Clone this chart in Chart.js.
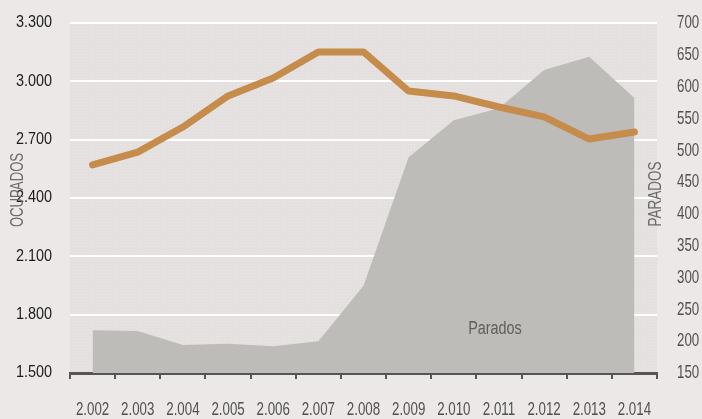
<!DOCTYPE html>
<html lang="es">
<head>
  <meta charset="UTF-8">
  <title>Ocupados y Parados</title>
  <script src="https://cdn.jsdelivr.net/npm/chart.js"></script>
  <style>
    html, body { margin: 0; padding: 0; background: #ece8e7; }
    canvas { display: block; }
  </style>
</head>
<body>
  <canvas id="grafico" width="702" height="419"></canvas>

  <script>
    const anios = ['2.002', '2.003', '2.004', '2.005', '2.006', '2.007', '2.008',
                   '2.009', '2.010', '2.011', '2.012', '2.013', '2.014'];
    const ocupados = [2570, 2636, 2765, 2925, 3017, 3151, 3151, 2950, 2925, 2868, 2817, 2703, 2739];
    const parados = [217, 216, 194, 196, 192, 200, 287, 489, 547, 566, 626, 647, 582];

    const fuente = '"Liberation Sans", Arial, sans-serif';
    const miles = v => String(v).replace(/\B(?=(\d{3})+(?!\d))/g, '.');

    // fondo punteado del área de trazado
    const pat = document.createElement('canvas');
    pat.width = 3; pat.height = 3;
    const pctx = pat.getContext('2d');
    pctx.fillStyle = '#e4e0df';
    pctx.fillRect(0, 0, 3, 3);
    pctx.fillStyle = '#ebe7e6';
    pctx.fillRect(0, 0, 1, 1);

    const fondo = {
      id: 'fondo',
      beforeDraw(chart) {
        const { ctx, chartArea: a } = chart;
        ctx.save();
        ctx.fillStyle = ctx.createPattern(pat, 'repeat');
        ctx.fillRect(a.left, a.top, a.right - a.left, a.bottom - a.top);
        ctx.restore();
      }
    };

    // texto estrecho: escala horizontal para imitar una fuente condensada
    function texto(ctx, str, x, y, sx, align, rot) {
      ctx.save();
      ctx.translate(x, y);
      if (rot) ctx.rotate(rot);
      ctx.scale(sx, 1);
      ctx.textAlign = align;
      ctx.textBaseline = 'middle';
      ctx.fillText(str, 0, 0);
      ctx.restore();
    }

    const textos = {
      id: 'textos',
      afterDraw(chart) {
        const ctx = chart.ctx;
        const { x, y, y2 } = chart.scales;
        ctx.save();

        ctx.font = '16px ' + fuente;
        ctx.fillStyle = '#1c1c1c';
        y.ticks.forEach(t => texto(ctx, miles(t.value), 52, y.getPixelForValue(t.value), 0.9, 'right'));

        ctx.font = '19px ' + fuente;
        ctx.fillStyle = '#505050';
        y2.ticks.forEach(t => texto(ctx, String(t.value), 677, y2.getPixelForValue(t.value), 0.7, 'left'));
        x.ticks.forEach((t, i) => texto(ctx, anios[i], x.getPixelForValue(i), 410, 0.7, 'center'));

        ctx.font = '18px ' + fuente;
        ctx.fillStyle = '#6b6b6b';
        texto(ctx, 'OCUPADOS', 18, 190, 0.73, 'center', -Math.PI / 2);
        texto(ctx, 'PARADOS', 656, 194, 0.75, 'center', -Math.PI / 2);

        ctx.fillStyle = '#5e5e5e';
        texto(ctx, 'Parados', 495, 329, 0.8, 'center');
        ctx.restore();
      }
    };

    new Chart(document.getElementById('grafico'), {
      type: 'line',
      data: {
        labels: anios,
        datasets: [
          {
            label: 'Ocupados',
            data: ocupados,
            yAxisID: 'y',
            borderColor: '#c68c4b',
            borderWidth: 7,
            borderCapStyle: 'round',
            borderJoinStyle: 'round',
            pointRadius: 0,
            tension: 0,
            fill: false,
            order: 1
          },
          {
            label: 'Parados',
            data: parados,
            yAxisID: 'y2',
            backgroundColor: '#bdbcb8',
            borderWidth: 0,
            pointRadius: 0,
            tension: 0,
            fill: 'start',
            order: 2
          }
        ]
      },
      options: {
        responsive: false,
        animation: false,
        layout: { padding: { top: 23, left: 0, right: 0, bottom: 0 } },
        plugins: { legend: { display: false }, tooltip: { enabled: false } },
        scales: {
          x: {
            offset: true,
            grid: { offset: true, drawOnChartArea: false, drawTicks: true, tickLength: 6, color: '#555', lineWidth: 2 },
            border: { display: true, color: '#555', width: 3 },
            ticks: { display: false, autoSkip: false },
            afterFit(s) { s.height = 46; }
          },
          y: {
            position: 'left',
            min: 1500, max: 3300,
            grid: { color: '#ffffff', lineWidth: 2, drawTicks: false },
            border: { display: false },
            ticks: { display: false, stepSize: 300 },
            afterFit(s) { s.width = 70; }
          },
          y2: {
            position: 'right',
            min: 150, max: 700,
            grid: { display: false, drawOnChartArea: false },
            border: { display: false },
            ticks: { display: false, stepSize: 50 },
            afterFit(s) { s.width = 45; }
          }
        }
      },
      plugins: [fondo, textos]
    });
  </script>
</body>
</html>
